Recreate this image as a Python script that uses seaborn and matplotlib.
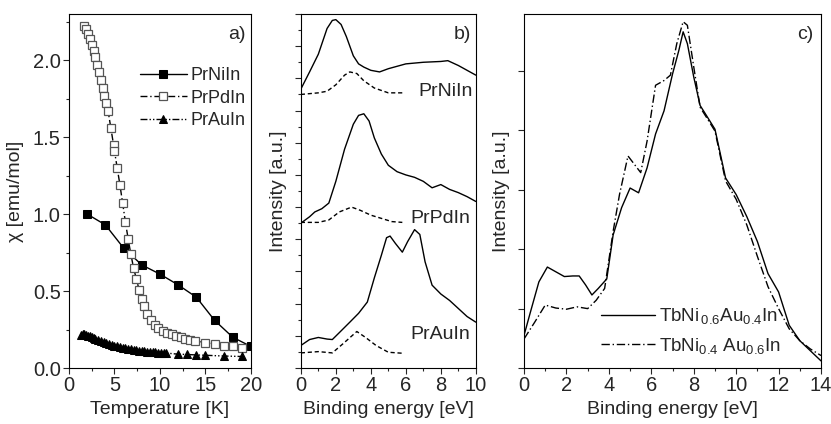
import matplotlib
matplotlib.use('Agg')
import matplotlib.pyplot as plt
import seaborn as sns
import numpy as np
from matplotlib.ticker import MultipleLocator, NullFormatter

# ---- panel a: susceptibility ----
t_ni = [2, 4, 6, 8, 10, 12, 14, 16, 18, 20]
chi_ni = [1.0, 0.93, 0.78, 0.67, 0.61, 0.54, 0.46, 0.31, 0.20, 0.14]

t_pd = [1.7, 1.9, 2.1, 2.3, 2.5, 2.7, 2.9, 3.1, 3.3, 3.5, 3.7, 3.9, 4.1, 4.3, 4.6, 4.9,
        5.0, 5.3, 5.6, 5.9, 6.2, 6.5, 6.8, 7.1, 7.4, 7.7, 8.0, 8.3, 8.6, 9.0, 9.4, 9.8,
        10.3, 10.8, 11.3, 11.8, 12.3, 12.8, 13.3, 13.9, 15.0, 16.0, 17.0, 18.0, 19.0]
chi_pd = [2.22, 2.20, 2.17, 2.14, 2.10, 2.06, 2.02, 1.97, 1.92, 1.87, 1.82, 1.77, 1.72, 1.67,
          1.56, 1.45, 1.41, 1.30, 1.19, 1.07, 0.95, 0.84, 0.74, 0.65, 0.58, 0.51, 0.45, 0.40,
          0.35, 0.31, 0.28, 0.26, 0.24, 0.23, 0.22, 0.21, 0.20, 0.19, 0.18, 0.175, 0.165,
          0.155, 0.145, 0.14, 0.13]

t_au = [1.3, 1.5, 1.7, 1.9, 2.1, 2.3, 2.5, 2.7, 2.9, 3.2, 3.5, 3.8, 4.1, 4.4, 4.7, 5.0,
        5.3, 5.6, 5.9, 6.2, 6.5, 6.8, 7.1, 7.4, 7.7, 8.0, 8.3, 8.6, 8.9, 9.2, 9.5, 9.8,
        10.1, 10.4, 10.7, 12, 13, 14, 15, 17, 19]
chi_au = [0.215, 0.22, 0.218, 0.215, 0.21, 0.205, 0.2, 0.195, 0.19, 0.182, 0.175, 0.168,
          0.161, 0.155, 0.15, 0.145, 0.14, 0.136, 0.132, 0.128, 0.125, 0.122, 0.119, 0.116,
          0.113, 0.111, 0.109, 0.107, 0.105, 0.103, 0.101, 0.1, 0.099, 0.098, 0.097, 0.09,
          0.088, 0.085, 0.083, 0.078, 0.075]

# ---- panel b: spectra (offset, arbitrary units) ----
e_ni = [0, 0.5, 1, 1.5, 1.8, 2.0, 2.3, 2.6, 3, 3.3, 3.6, 4, 4.5, 5, 6, 7, 8, 8.4, 9, 10]
i_ni = [17.33, 18.4, 19.5, 21.1, 21.6, 21.65, 21.35, 20.6, 19.4, 18.9, 18.7, 18.5, 18.4,
        18.6, 18.9, 19.0, 19.05, 19.1, 18.8, 18.2]
e_ni_d = [0, 1, 1.5, 2, 2.5, 2.8, 3.2, 3.6, 4.2, 5, 5.8]
i_ni_d = [17.0, 17.1, 17.2, 17.6, 18.2, 18.4, 18.3, 17.85, 17.4, 17.1, 17.1]

e_pd = [0, 0.5, 0.8, 1.2, 1.6, 2, 2.5, 3, 3.3, 3.6, 3.9, 4.2, 4.6, 5, 5.5, 6, 6.5, 7, 7.5,
        8, 8.5, 9, 9.5, 10]
i_pd = [9.0, 9.4, 9.7, 9.9, 10.25, 11.6, 13.6, 15.15, 15.7, 15.8, 15.35, 14.3, 13.3, 12.6,
        12.2, 12.0, 11.85, 11.6, 11.2, 11.4, 11.1, 10.9, 10.65, 10.35]
e_pd_d = [0, 1, 1.6, 2.2, 2.9, 3.4, 4, 4.6, 5.2, 5.8]
i_pd_d = [9.05, 9.05, 9.2, 9.7, 10.0, 9.8, 9.5, 9.3, 9.1, 9.05]

e_au = [0, 0.5, 1, 1.5, 1.8, 2.2, 2.8, 3.3, 3.8, 4.2, 4.6, 4.9, 5.1, 5.4, 5.8, 6.1, 6.5,
        6.8, 7.1, 7.5, 8, 8.5, 9, 9.5, 10]
i_au = [1.4, 1.77, 1.9, 1.8, 1.77, 2.2, 2.85, 3.4, 4.1, 5.6, 7.0, 8.1, 8.2, 7.75, 7.2, 7.85,
        8.6, 8.3, 6.6, 5.15, 4.6, 4.2, 3.7, 3.2, 2.85]
e_au_d = [0, 1, 1.8, 2.4, 3.2, 3.7, 4.3, 5, 5.8]
i_au_d = [0.94, 1.02, 0.94, 1.5, 2.27, 1.9, 1.4, 0.98, 0.92]

# ---- panel c: TbNi/Au spectra ----
e_c1 = [0, 0.3, 0.7, 1.1, 1.5, 1.9, 2.3, 2.6, 2.9, 3.2, 3.5, 3.9, 4.2, 4.6, 5, 5.4, 5.8,
        6.2, 6.6, 7, 7.3, 7.5, 7.7, 8, 8.3, 8.6, 9, 9.5, 10, 10.5, 11, 11.5, 12, 12.5, 13,
        13.5, 14]
i_c1 = [0.55, 0.94, 1.45, 1.7, 1.62, 1.54, 1.55, 1.55, 1.4, 1.23, 1.34, 1.5, 2.24, 2.7,
        3.03, 2.95, 3.37, 3.94, 4.33, 4.95, 5.35, 5.66, 5.46, 4.9, 4.42, 4.25, 4.02, 3.2,
        2.92, 2.55, 2.13, 1.59, 1.28, 0.72, 0.46, 0.29, 0.12]
e_c2 = [0, 0.5, 1, 1.5, 2, 2.5, 3, 3.4, 3.8, 4.2, 4.5, 4.9, 5.2, 5.5, 5.8, 6.2, 6.6, 6.9,
        7.2, 7.5, 7.7, 8, 8.3, 8.6, 9, 9.5, 10, 10.5, 11, 11.5, 12, 12.5, 13, 13.5, 14]
i_c2 = [0.49, 0.77, 1.06, 1.01, 0.99, 1.03, 1.0, 1.14, 1.34, 2.3, 2.92, 3.57, 3.43, 3.29,
        3.82, 4.76, 4.84, 4.93, 5.46, 5.83, 5.77, 5.07, 4.39, 4.22, 3.99, 3.15, 2.84, 2.41,
        1.88, 1.37, 1.0, 0.66, 0.46, 0.32, 0.21]

sns.set_style('ticks')
plt.rcParams['font.family'] = ['Liberation Sans', 'DejaVu Sans']
plt.rcParams['mathtext.default'] = 'regular'
plt.rcParams['axes.linewidth'] = 0.8

TICK_FS = 14.5
LABEL_FS = 14

fig = plt.figure(figsize=(8.31, 4.24), dpi=100)
ax_a = fig.add_axes([0.083, 0.132, 0.219, 0.835])
ax_b = fig.add_axes([0.362, 0.132, 0.2106, 0.835])
ax_c = fig.add_axes([0.6306, 0.132, 0.3574, 0.835])

lw = 1.0
sns.lineplot(x=t_ni, y=chi_ni, ax=ax_a, color='black', lw=lw, marker='s', ms=5.2,
             mec='black', mfc='black', label='PrNiIn')
sns.lineplot(x=t_pd, y=chi_pd, ax=ax_a, color='black', lw=lw, ls=(0, (5, 2, 1, 2)),
             marker='s', ms=5.2, mec='#555555', mfc='white', mew=0.9, label='PrPdIn')
sns.lineplot(x=t_au, y=chi_au, ax=ax_a, color='black', lw=lw, ls=(0, (5, 1.5, 1, 1.5, 1, 1.5)),
             marker='^', ms=5.5, mec='black', mfc='black', label='PrAuIn')
ax_a.set_xlim(0, 20)
ax_a.set_ylim(0, 2.3)
ax_a.xaxis.set_major_locator(MultipleLocator(5))
ax_a.xaxis.set_minor_locator(MultipleLocator(2.5))
ax_a.yaxis.set_major_locator(MultipleLocator(0.5))
ax_a.yaxis.set_minor_locator(MultipleLocator(0.25))
ax_a.yaxis.set_major_formatter(matplotlib.ticker.FormatStrFormatter('%.1f'))
ax_a.set_xlabel('Temperature [K]', fontsize=LABEL_FS)
ax_a.set_ylabel('χ [emu/mol]', fontsize=LABEL_FS, labelpad=6)
ax_a.legend(loc='upper left', bbox_to_anchor=(0.39, 0.85), frameon=False, fontsize=13,
            handlelength=2.6, handletextpad=0.2, labelspacing=0.3, borderaxespad=0, borderpad=0)
ax_a.text(0.97, 0.965, 'a)', transform=ax_a.transAxes, ha='right', va='top', fontsize=14)

for e, i, ls in [(e_ni, i_ni, '-'), (e_ni_d, i_ni_d, (0, (3, 2))), (e_pd, i_pd, '-'),
                 (e_pd_d, i_pd_d, (0, (3, 2))), (e_au, i_au, '-'), (e_au_d, i_au_d, (0, (3, 2)))]:
    sns.lineplot(x=e, y=i, ax=ax_b, color='black', lw=lw, ls=ls)
ax_b.set_xlim(0, 10)
ax_b.set_ylim(0, 22)
ax_b.xaxis.set_major_locator(MultipleLocator(2))
ax_b.xaxis.set_minor_locator(MultipleLocator(1))
ax_b.yaxis.set_major_locator(MultipleLocator(2))
ax_b.yaxis.set_minor_locator(MultipleLocator(1))
ax_b.yaxis.set_major_formatter(NullFormatter())
ax_b.set_xlabel('Binding energy [eV]', fontsize=LABEL_FS)
ax_b.set_ylabel('Intensity [a.u.]', fontsize=LABEL_FS)
ax_b.text(0.97, 0.965, 'b)', transform=ax_b.transAxes, ha='right', va='top', fontsize=14)
ax_b.text(9.8, 17.2, 'PrNiIn', ha='right', va='center', fontsize=14)
ax_b.text(9.7, 9.3, 'PrPdIn', ha='right', va='center', fontsize=14)
ax_b.text(9.7, 2.1, 'PrAuIn', ha='right', va='center', fontsize=14)

sns.lineplot(x=e_c1, y=i_c1, ax=ax_c, color='black', lw=lw, ls='-',
             label='TbNi$_{\\,0.6}$Au$_{0.4}$In')
sns.lineplot(x=e_c2, y=i_c2, ax=ax_c, color='black', lw=lw, ls=(0, (6, 2, 1, 2)),
             label='TbNi$_{0.4}$ Au$_{0.6}$In')
ax_c.set_xlim(0, 14)
ax_c.set_ylim(0, 5.96)
ax_c.xaxis.set_major_locator(MultipleLocator(2))
ax_c.xaxis.set_minor_locator(MultipleLocator(1))
ax_c.yaxis.set_major_locator(MultipleLocator(1))
ax_c.yaxis.set_major_formatter(NullFormatter())
ax_c.set_xlabel('Binding energy [eV]', fontsize=LABEL_FS)
ax_c.set_ylabel('Intensity [a.u.]', fontsize=LABEL_FS)
ax_c.legend(loc='lower right', bbox_to_anchor=(0.865, 0.035), frameon=False, fontsize=13.5,
            handlelength=2.9, handletextpad=0.2, labelspacing=0.5, borderaxespad=0, borderpad=0)
ax_c.text(0.975, 0.965, 'c)', transform=ax_c.transAxes, ha='right', va='top', fontsize=14)

for ax in (ax_a, ax_b, ax_c):
    ax.tick_params(which='major', direction='out', length=4, width=0.8, labelsize=TICK_FS,
                   pad=2, top=False, right=False)
    ax.tick_params(which='minor', direction='out', length=2.5, width=0.8, top=False, right=False)
    for s in ax.spines.values():
        s.set_visible(True)
        s.set_color('black')

fig.savefig('out.png', dpi=100)
